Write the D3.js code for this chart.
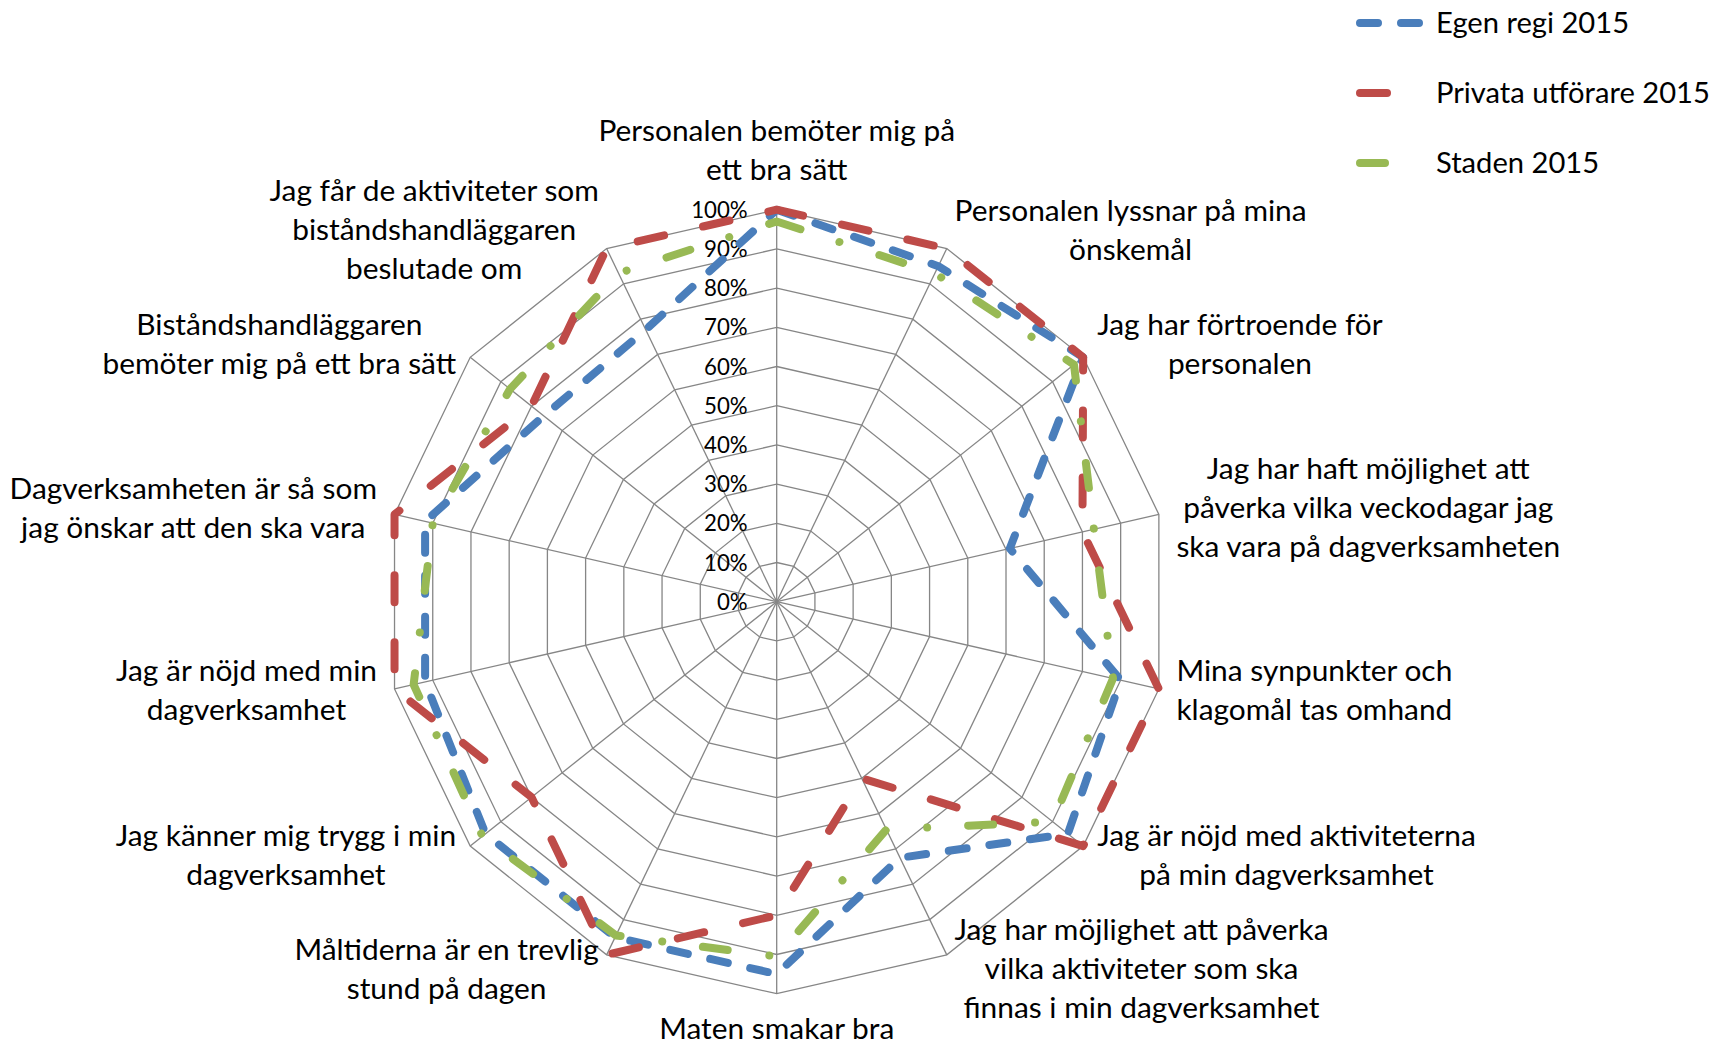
<!DOCTYPE html>
<html>
<head>
<meta charset="utf-8">
<script src="https://cdn.jsdelivr.net/npm/d3@7"></script>
<style>
  html, body { margin: 0; padding: 0; background: #ffffff; }
  svg { display: block; }
</style>
</head>
<body>
<svg id="chart" width="1715" height="1044"></svg>
<script>
// ---------------- DATA ----------------
const categories = [
  "Personalen bemöter mig på\nett bra sätt",
  "Personalen lyssnar på mina\nönskemål",
  "Jag har förtroende för\npersonalen",
  "Jag har haft möjlighet att\npåverka vilka veckodagar jag\nska vara på dagverksamheten",
  "Mina synpunkter och\nklagomål tas omhand",
  "Jag är nöjd med aktiviteterna\npå min dagverksamhet",
  "Jag har möjlighet att påverka\nvilka aktiviteter som ska\nfinnas i min dagverksamhet",
  "Maten smakar bra",
  "Måltiderna är en trevlig\nstund på dagen",
  "Jag känner mig trygg i min\ndagverksamhet",
  "Jag är nöjd med min\ndagverksamhet",
  "Dagverksamheten är så som\njag önskar att den ska vara",
  "Biståndshandläggaren\nbemöter mig på ett bra sätt",
  "Jag får de aktiviteter som\nbiståndshandläggaren\nbeslutade om"
];
const seriesNames = ["Egen regi 2015", "Privata utförare 2015", "Staden 2015"];
const egenRegi2015   = [100, 95, 100, 61, 90, 95, 72.5, 95, 95, 95, 92, 92, 76, 77];
const privata2015    = [100, 100, 100, 80, 100, 100, 50, 80, 100, 80, 100, 100, 80, 100];
const staden2015     = [97, 93, 97, 83, 88, 90, 64.5, 90.5, 94.5, 96, 95, 90, 87, 93];
const tickValues = [0, 10, 20, 30, 40, 50, 60, 70, 80, 90, 100];
const tickLabels = ["0%", "10%", "20%", "30%", "40%", "50%", "60%", "70%", "80%", "90%", "100%"];

// ---------------- LAYOUT / STYLE ----------------
const W = 1715, H = 1044;
const cx = 776.7, cy = 601.7, R = 392;
const FONT = "Lato, 'Open Sans', 'DejaVu Sans', sans-serif";
const gridColor = "#868686";
const colors = ["#4A7EBB", "#BE4B48", "#98B954"];
const dashes = ["18,23", "27,40", "25,41,0.01,42"];
const lineW = 8;

const svg = d3.select("#chart");
svg.append("rect").attr("width", W).attr("height", H).attr("fill", "#fff");

function fit(sample, target) {
  const t = svg.append("text").attr("font-family", FONT).attr("font-size", 100).text(sample);
  const w = t.node().getComputedTextLength();
  t.remove();
  return 100 * target / w;
}
const labelSize = fit("klagomål tas omhand", 276);
const legendSize = fit("Privata utförare 2015", 274);
const tickSize = fit("100%", 56.6);

const n = categories.length;
const angle = d3.scaleLinear().domain([0, n]).range([0, 2 * Math.PI]);
const r = d3.scaleLinear().domain([0, 100]).range([0, R]);

const g = svg.append("g").attr("transform", `translate(${cx},${cy})`);

// grid rings
const ringLine = d3.lineRadial()
  .angle((d, i) => angle(i))
  .radius(d => r(d))
  .curve(d3.curveLinearClosed);
tickValues.filter(v => v > 0).forEach(v => {
  g.append("path")
    .attr("d", ringLine(categories.map(() => v)))
    .attr("fill", "none")
    .attr("stroke", gridColor)
    .attr("stroke-width", 1.3);
});
// spokes
categories.forEach((c, i) => {
  const a = angle(i);
  g.append("line")
    .attr("x1", 0).attr("y1", 0)
    .attr("x2", r(100) * Math.sin(a)).attr("y2", -r(100) * Math.cos(a))
    .attr("stroke", gridColor).attr("stroke-width", 1.3);
});

// tick labels
g.selectAll("text.tick").data(tickValues).join("text")
  .attr("class", "tick")
  .attr("x", -29)
  .attr("y", d => -r(d))
  .attr("dy", "0.36em")
  .attr("text-anchor", "end")
  .attr("font-family", FONT)
  .attr("font-size", tickSize)
  .attr("fill", "#000")
  .text((d, i) => tickLabels[i]);

// series
const seriesData = [egenRegi2015, privata2015, staden2015];
seriesData.forEach((vals, s) => {
  g.append("path")
    .attr("d", ringLine(vals))
    .attr("fill", "none")
    .attr("stroke", colors[s])
    .attr("stroke-width", lineW)
    .attr("stroke-dasharray", dashes[s])
    .attr("stroke-linecap", "round")
    .attr("stroke-linejoin", "round");
});

// category labels
const LH = 39, pad = 18;
categories.forEach((c, i) => {
  const a = angle(i);
  const dx = Math.sin(a), dy = -Math.cos(a);
  const px = (R + pad) * dx, py = (R + pad) * dy;
  const lines = c.split("\n");
  const t = g.append("text")
    .attr("font-family", FONT)
    .attr("font-size", labelSize)
    .attr("fill", "#000")
    .attr("text-anchor", "middle");
  const spans = lines.map(l => t.append("tspan").text(l));
  const bw = d3.max(spans, s => s.node().getComputedTextLength());
  const bh = lines.length * LH;
  let left, top;
  if (Math.abs(dx) < 0.05) {
    left = px - bw / 2;
    top = dy < 0 ? py - bh : py;
  } else {
    left = dx > 0 ? px : px - bw;
    top = py - bh / 2;
  }
  spans.forEach((s, k) => {
    s.attr("x", left + bw / 2).attr("y", top + k * LH + LH / 2 + 8);
  });
});

// legend
const legend = svg.append("g");
const legY = [23, 93, 163];
const legLen = [59, 30, 30];
seriesNames.forEach((name, s) => {
  legend.append("line")
    .attr("x1", 1360).attr("x2", 1360 + legLen[s])
    .attr("y1", legY[s]).attr("y2", legY[s])
    .attr("stroke", colors[s])
    .attr("stroke-width", lineW)
    .attr("stroke-linecap", "round")
    .attr("stroke-dasharray", dashes[s]);
  legend.append("text")
    .attr("x", 1436).attr("y", legY[s])
    .attr("dy", "0.36em")
    .attr("font-family", FONT)
    .attr("font-size", legendSize)
    .attr("fill", "#000")
    .text(name);
});
</script>
</body>
</html>
